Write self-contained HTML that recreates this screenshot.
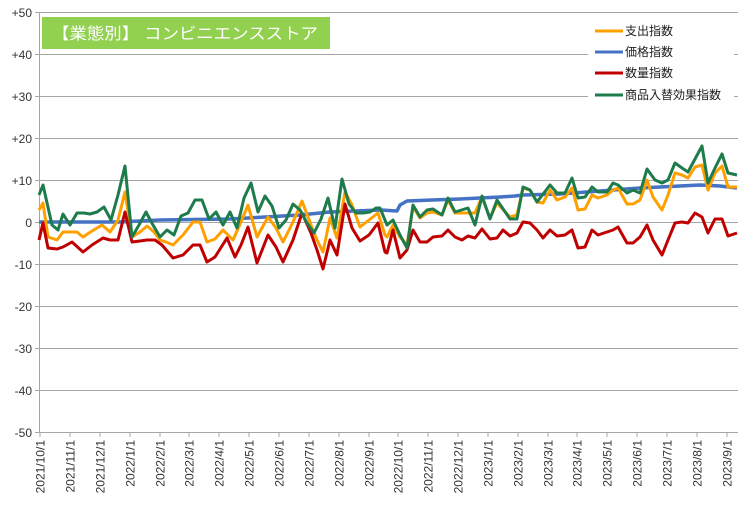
<!DOCTYPE html>
<html><head><meta charset="utf-8"><style>
body{margin:0;background:#fff;}
svg text{font-family:"Liberation Sans","Noto Sans CJK JP",sans-serif;}
</style></head><body>
<svg width="742" height="510" viewBox="0 0 742 510" xmlns="http://www.w3.org/2000/svg">
<rect width="742" height="510" fill="#fff"/>
<g stroke="#a6a6a6" stroke-width="1">
<line x1="39" y1="12.5" x2="738" y2="12.5"/>
<line x1="39" y1="54.5" x2="738" y2="54.5"/>
<line x1="39" y1="96.5" x2="738" y2="96.5"/>
<line x1="39" y1="138.5" x2="738" y2="138.5"/>
<line x1="39" y1="180.5" x2="738" y2="180.5"/>
<line x1="39" y1="222.5" x2="738" y2="222.5"/>
<line x1="39" y1="264.5" x2="738" y2="264.5"/>
<line x1="39" y1="306.5" x2="738" y2="306.5"/>
<line x1="39" y1="348.5" x2="738" y2="348.5"/>
<line x1="39" y1="390.5" x2="738" y2="390.5"/>
<line x1="39" y1="432.5" x2="738" y2="432.5"/>
<line x1="39.5" y1="12" x2="39.5" y2="432"/>
</g>
<g stroke="#a6a6a6" stroke-width="1">
<line x1="35" y1="12.5" x2="39" y2="12.5"/><line x1="35" y1="54.5" x2="39" y2="54.5"/><line x1="35" y1="96.5" x2="39" y2="96.5"/><line x1="35" y1="138.5" x2="39" y2="138.5"/><line x1="35" y1="180.5" x2="39" y2="180.5"/><line x1="35" y1="222.5" x2="39" y2="222.5"/><line x1="35" y1="264.5" x2="39" y2="264.5"/><line x1="35" y1="306.5" x2="39" y2="306.5"/><line x1="35" y1="348.5" x2="39" y2="348.5"/><line x1="35" y1="390.5" x2="39" y2="390.5"/><line x1="35" y1="432.5" x2="39" y2="432.5"/>
</g>
<g font-size="12" fill="#333" text-anchor="end">
<text x="32" y="17">+50</text><text x="32" y="59">+40</text><text x="32" y="101">+30</text><text x="32" y="143">+20</text><text x="32" y="185">+10</text><text x="32" y="227">0</text><text x="32" y="269">-10</text><text x="32" y="311">-20</text><text x="32" y="353">-30</text><text x="32" y="395">-40</text><text x="32" y="437">-50</text>
</g>
<g stroke="#a6a6a6">
<line x1="40" y1="432" x2="40" y2="437"/><line x1="70" y1="432" x2="70" y2="437"/><line x1="100" y1="432" x2="100" y2="437"/><line x1="130" y1="432" x2="130" y2="437"/><line x1="160" y1="432" x2="160" y2="437"/><line x1="189" y1="432" x2="189" y2="437"/><line x1="219" y1="432" x2="219" y2="437"/><line x1="249" y1="432" x2="249" y2="437"/><line x1="279" y1="432" x2="279" y2="437"/><line x1="309" y1="432" x2="309" y2="437"/><line x1="339" y1="432" x2="339" y2="437"/><line x1="369" y1="432" x2="369" y2="437"/><line x1="398" y1="432" x2="398" y2="437"/><line x1="428" y1="432" x2="428" y2="437"/><line x1="458" y1="432" x2="458" y2="437"/><line x1="488" y1="432" x2="488" y2="437"/><line x1="518" y1="432" x2="518" y2="437"/><line x1="548" y1="432" x2="548" y2="437"/><line x1="577" y1="432" x2="577" y2="437"/><line x1="607" y1="432" x2="607" y2="437"/><line x1="637" y1="432" x2="637" y2="437"/><line x1="667" y1="432" x2="667" y2="437"/><line x1="697" y1="432" x2="697" y2="437"/><line x1="727" y1="432" x2="727" y2="437"/>
</g>
<g font-size="12" fill="#333" text-anchor="end">
<text transform="translate(44.5,440) rotate(-90)">2021/10/1</text>
<text transform="translate(74.5,440) rotate(-90)">2021/11/1</text>
<text transform="translate(104.5,440) rotate(-90)">2021/12/1</text>
<text transform="translate(134.5,440) rotate(-90)">2022/1/1</text>
<text transform="translate(164.5,440) rotate(-90)">2022/2/1</text>
<text transform="translate(193.5,440) rotate(-90)">2022/3/1</text>
<text transform="translate(223.5,440) rotate(-90)">2022/4/1</text>
<text transform="translate(253.5,440) rotate(-90)">2022/5/1</text>
<text transform="translate(283.5,440) rotate(-90)">2022/6/1</text>
<text transform="translate(313.5,440) rotate(-90)">2022/7/1</text>
<text transform="translate(343.5,440) rotate(-90)">2022/8/1</text>
<text transform="translate(373.5,440) rotate(-90)">2022/9/1</text>
<text transform="translate(402.5,440) rotate(-90)">2022/10/1</text>
<text transform="translate(432.5,440) rotate(-90)">2022/11/1</text>
<text transform="translate(462.5,440) rotate(-90)">2022/12/1</text>
<text transform="translate(492.5,440) rotate(-90)">2023/1/1</text>
<text transform="translate(522.5,440) rotate(-90)">2023/2/1</text>
<text transform="translate(552.5,440) rotate(-90)">2023/3/1</text>
<text transform="translate(581.5,440) rotate(-90)">2023/4/1</text>
<text transform="translate(611.5,440) rotate(-90)">2023/5/1</text>
<text transform="translate(641.5,440) rotate(-90)">2023/6/1</text>
<text transform="translate(671.5,440) rotate(-90)">2023/7/1</text>
<text transform="translate(701.5,440) rotate(-90)">2023/8/1</text>
<text transform="translate(731.5,440) rotate(-90)">2023/9/1</text>
</g>
<g fill="none" stroke-width="3" stroke-linejoin="round">
<polyline stroke="#4472c4" stroke-width="3.5" points="39,222 120,222 160,220 230,219 300,215 330,212 380,210 397,211 400,205 407,201 432,200 460,199 500,197 515,196 523,195 560,194 600,191 640,188 700,185 720,186 737,188"/>
<polyline stroke="#ffa000" points="39,210 43,203 48,237 57,240 63,232 77,232 83,237 92,231 102,225 110,232 118,220 125,192 132,237 140,232 147,226 154,232 160,240 166,242 173,245 183,235 193,222 200,222 207,242 215,239 223,230 233,240 241,222 248,205 257,237 268,217 276,228 283,242 293,222 302,201 311,225 317,240 323,252 330,218 337,238 345,192 352,205 360,227 369,220 378,213 385,235 387,237 393,225 400,237 407,245 413,207 420,218 427,213 433,212 442,215 448,200 455,213 468,213 475,213 482,197 490,218 497,203 510,217 517,215 523,188 530,190 537,202 543,203 550,190 557,200 565,197 572,188 578,210 585,209 592,195 598,198 607,195 613,190 618,188 627,204 633,204 640,200 647,180 653,197 662,210 668,195 675,173 682,175 688,178 695,167 702,165 708,190 715,173 722,166 728,187 737,187"/>
<polyline stroke="#c00000" points="39,240 43,223 48,248 57,249 63,247 72,242 83,252 92,245 103,238 110,240 118,240 125,212 132,242 140,241 147,240 155,240 162,245 173,258 183,255 193,245 200,245 207,262 215,257 227,238 235,257 241,245 248,227 257,263 268,235 276,247 283,262 293,240 302,213 311,233 317,250 323,269 330,240 337,255 345,204 352,228 360,241 369,235 378,223 385,252 387,253 393,230 400,258 407,250 413,230 420,242 427,242 433,237 442,236 448,230 455,237 462,240 468,236 475,238 482,229 490,239 497,238 503,230 510,236 517,233 523,222 530,223 537,230 543,238 550,230 557,236 565,235 572,230 578,248 585,247 592,230 598,235 607,232 613,230 618,227 627,243 633,243 640,237 647,225 653,240 662,255 668,240 675,223 682,222 688,223 695,213 702,217 708,233 715,219 722,219 728,236 737,233"/>
<polyline stroke="#1e7b4b" points="39,195 43,185 52,225 58,230 63,214 70,225 77,213 84,213 90,214 97,212 104,207 111,220 118,195 125,166 132,237 139,225 146,212 153,225 160,237 167,230 174,235 181,216 188,213 195,200 202,200 209,219 216,212 223,225 230,212 237,228 244,198 251,183 258,212 265,196 272,206 279,228 286,220 293,204 300,210 307,223 314,233 321,219 328,198 335,228 342,179 349,204 356,213 363,213 370,212 376,208 380,208 387,225 393,220 400,235 407,248 413,205 420,217 427,210 433,209 442,215 448,198 455,212 468,208 475,225 482,196 490,219 497,200 510,219 517,219 523,187 530,190 537,202 550,185 557,193 565,193 572,178 578,198 585,197 592,187 598,192 607,192 613,183 618,185 627,193 633,190 640,193 647,169 655,180 662,183 668,180 675,163 682,168 688,172 702,146 708,183 715,168 722,154 728,173 737,175"/>
</g>
<rect x="42" y="17" width="288" height="32" fill="#92d050"/>
<text x="52" y="39" font-size="16" fill="#fff" textLength="266" lengthAdjust="spacingAndGlyphs">【業態別】 コンビニエンスストア</text>
<rect x="588" y="20" width="146" height="88" fill="#fff"/>
<g stroke-width="3">
<line x1="595" y1="31" x2="623" y2="31" stroke="#ffa000"/>
<line x1="595" y1="52" x2="623" y2="52" stroke="#4472c4"/>
<line x1="595" y1="73" x2="623" y2="73" stroke="#c00000"/>
<line x1="595" y1="95" x2="623" y2="95" stroke="#1e7b4b"/>
</g>
<g font-size="12" fill="#222">
<text x="625" y="35">支出指数</text>
<text x="625" y="56">価格指数</text>
<text x="625" y="77">数量指数</text>
<text x="625" y="99">商品入替効果指数</text>
</g>
</svg>
</body></html>
